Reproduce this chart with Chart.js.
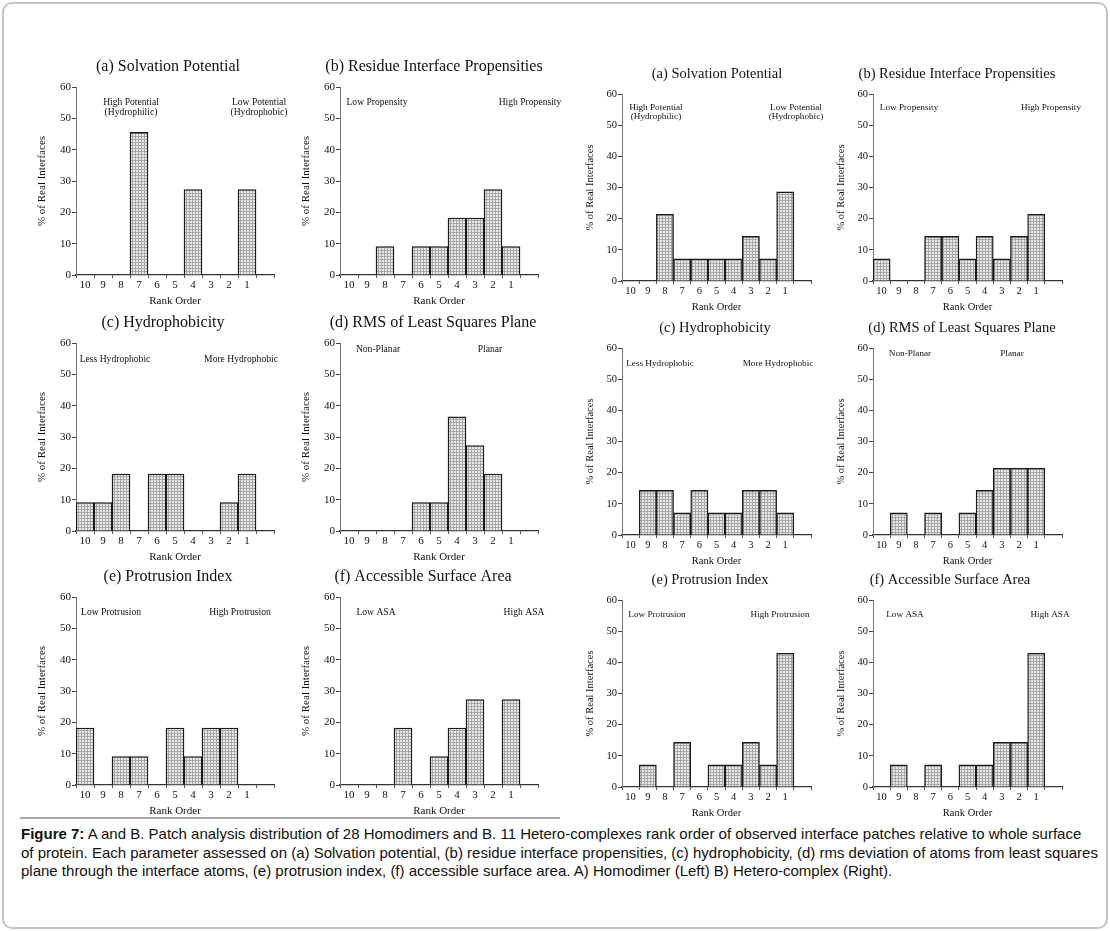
<!DOCTYPE html>
<html>
<head>
<meta charset="utf-8">
<script src="https://cdn.jsdelivr.net/npm/chart.js@4/dist/chart.umd.min.js"></script>
<style>
  html, body { margin: 0; padding: 0; background: #fff; }
  body { width: 1110px; height: 931px; position: relative; overflow: hidden; }
  #frame { position: absolute; left: 2px; top: 2px; width: 1102px; height: 923px;
           border: 2px solid #c4c4c4; border-radius: 10px; }
  #rule { position: absolute; left: 20px; top: 817px; width: 540px; height: 2px; background: #a8a8a8; }
  canvas { position: absolute; }
  #caption { position: absolute; left: 21px; top: 825px; font-family: "Liberation Sans", Arial, sans-serif;
             font-size: 15px; line-height: 18.5px; color: #111; white-space: nowrap; }
</style>
</head>
<body>
<div id="frame"></div>
<div id="rule"></div>
<div id="caption">
  <div><b>Figure 7:</b> A and B. Patch analysis distribution of 28 Homodimers and B. 11 Hetero-complexes rank order of observed interface patches relative to whole surface</div>
  <div>of protein. Each parameter assessed on (a) Solvation potential, (b) residue interface propensities, (c) hydrophobicity, (d) rms deviation of atoms from least squares</div>
  <div>plane through the interface atoms, (e) protrusion index, (f) accessible surface area. A) Homodimer (Left) B) Hetero-complex (Right).</div>
</div>
<script>
// rank order categories (the extra empty slot is the axis run-out after rank 1)
const RANKS = ["10", "9", "8", "7", "6", "5", "4", "3", "2", "1"];
const Y_TICKS = [0, 10, 20, 30, 40, 50, 60];

// A) homodimers, % of real interfaces per rank
const HOMO_SOLVATION  = [0, 0, 0, 45.5, 0, 0, 27.3, 0, 0, 27.3];
const HOMO_RESIDUE    = [0, 0, 9.1, 0, 9.1, 9.1, 18.2, 18.2, 27.3, 9.1];
const HOMO_HYDROPHOB  = [9.1, 9.1, 18.2, 0, 18.2, 18.2, 0, 0, 9.1, 18.2];
const HOMO_RMS        = [0, 0, 0, 0, 9.1, 9.1, 36.4, 27.3, 18.2, 0];
const HOMO_PROTRUSION = [18.2, 0, 9.1, 9.1, 0, 18.2, 9.1, 18.2, 18.2, 0];
const HOMO_ASA        = [0, 0, 0, 18.2, 0, 9.1, 18.2, 27.3, 0, 27.3];

// B) hetero-complexes
const HET_SOLVATION  = [0, 0, 21.4, 7.1, 7.1, 7.1, 7.1, 14.3, 7.1, 28.6];
const HET_RESIDUE    = [7.1, 0, 0, 14.3, 14.3, 7.1, 14.3, 7.1, 14.3, 21.4];
const HET_HYDROPHOB  = [0, 14.3, 14.3, 7.1, 14.3, 7.1, 7.1, 14.3, 14.3, 7.1];
const HET_RMS        = [0, 7.1, 0, 7.1, 0, 7.1, 14.3, 21.4, 21.4, 21.4];
const HET_PROTRUSION = [0, 7.1, 0, 14.3, 0, 7.1, 7.1, 14.3, 7.1, 42.9];
const HET_ASA        = [0, 7.1, 0, 7.1, 0, 7.1, 7.1, 14.3, 14.3, 42.9];

const TITLES = ["(a) Solvation Potential", "(b) Residue Interface Propensities", "(c) Hydrophobicity",
                "(d) RMS of Least Squares Plane", "(e) Protrusion Index", "(f) Accessible Surface Area"];
const LOW_NOTES  = [["High Potential", "(Hydrophilic)"], ["Low Propensity"], ["Less Hydrophobic"],
                    ["Non-Planar"], ["Low Protrusion"], ["Low ASA"]];
const HIGH_NOTES = [["Low Potential", "(Hydrophobic)"], ["High Propensity"], ["More Hydrophobic"],
                    ["Planar"], ["High Protrusion"], ["High ASA"]];

// ---- layout (pixels) ----
const SERIF = "'Liberation Serif', 'Times New Roman', serif";
const homo = {
  values: [HOMO_SOLVATION, HOMO_RESIDUE, HOMO_HYDROPHOB, HOMO_RMS, HOMO_PROTRUSION, HOMO_ASA],
  plotX: [76, 340], plotY: [87, 343, 597], plotW: 198, plotH: 188, yW: 40,
  titleCx: [168, 434, 163, 433, 168, 423], titleSize: 16, font: 11, noteFont: 9.6, noteGap: 10,
  notes: [[55, 15, 183, 15], [37, 15, 190, 15], [39, 16, 165, 16], [38, 6, 150, 6], [35, 15, 164, 15], [36, 15, 184, 15]]
};
const het = {
  values: [HET_SOLVATION, HET_RESIDUE, HET_HYDROPHOB, HET_RMS, HET_PROTRUSION, HET_ASA],
  plotX: [622, 873], plotY: [94, 348, 600], plotW: 189, plotH: 187, yW: 38,
  titleCx: [717, 957, 715, 962, 710, 950], titleSize: 14.5, font: 10.5, noteFont: 9.2, noteGap: 9,
  notes: [[34, 14, 174, 14], [36, 14, 178, 14], [38, 16, 156, 16], [37, 6, 139, 6], [35, 15, 158, 15], [32, 15, 177, 15]]
};

function makePattern() {
  const p = document.createElement("canvas");
  p.width = 3; p.height = 3;
  const c = p.getContext("2d");
  c.fillStyle = "#e9e9e9"; c.fillRect(0, 0, 3, 3);
  c.fillStyle = "#a8a8a8"; c.fillRect(0, 0, 3, 1); c.fillRect(0, 0, 1, 3);
  return c.createPattern(p, "repeat");
}

function drawPanel(set, i) {
  const col = i % 2, row = Math.floor(i / 2);
  const X_H = 33, TOP_H = 32;
  const left = set.plotX[col] - set.yW;
  const width = set.yW + set.plotW + 60;
  const height = TOP_H + set.plotH + X_H;

  const cv = document.createElement("canvas");
  cv.width = width; cv.height = height;
  cv.style.left = left + "px";
  cv.style.top = (set.plotY[row] - TOP_H) + "px";
  cv.style.width = width + "px"; cv.style.height = height + "px";
  document.body.appendChild(cv);

  const n = set.notes[i];
  const labelsPlugin = {
    id: "panelLabels",
    afterDraw(chart) {
      const ctx = chart.ctx, a = chart.chartArea;
      ctx.save();
      ctx.fillStyle = "#111";
      ctx.textAlign = "center";
      ctx.textBaseline = "middle";
      ctx.font = set.titleSize + "px " + SERIF;
      ctx.fillText(TITLES[i], set.titleCx[i] - left, a.top - 20);
      ctx.font = set.noteFont + "px " + SERIF;
      LOW_NOTES[i].forEach((t, k) => ctx.fillText(t, a.left + n[0], a.top + n[1] + k * set.noteGap));
      HIGH_NOTES[i].forEach((t, k) => ctx.fillText(t, a.left + n[2], a.top + n[3] + k * set.noteGap));
      ctx.restore();
    }
  };

  new Chart(cv.getContext("2d"), {
    type: "bar",
    data: {
      labels: RANKS.concat([""]),
      datasets: [{
        data: set.values[i],
        backgroundColor: makePattern(),
        borderColor: "#1a1a1a",
        borderWidth: 1.4,
        borderSkipped: "bottom",
        categoryPercentage: 1,
        barPercentage: 1
      }]
    },
    options: {
      responsive: false,
      animation: false,
      devicePixelRatio: 1,
      layout: { padding: { left: 0, top: TOP_H, bottom: 0, right: width - set.yW - set.plotW } },
      plugins: { legend: { display: false }, tooltip: { enabled: false }, title: { display: false } },
      scales: {
        x: {
          grid: { offset: true, drawOnChartArea: false, tickLength: 3, color: "#555" },
          border: { color: "#333", width: 1.2 },
          ticks: { color: "#111", padding: 1, font: { family: SERIF, size: set.font } },
          title: { display: true, text: "Rank Order", color: "#111", padding: { top: -2, bottom: 0 },
                   font: { family: SERIF, size: set.font } },
          afterFit(s) { s.height = X_H; }
        },
        y: {
          min: 0, max: 60,
          afterBuildTicks(s) { s.ticks = Y_TICKS.map(v => ({ value: v })); },
          grid: { drawOnChartArea: false, tickLength: 4, color: "#444" },
          border: { color: "#777", width: 1, dash: [2, 1] },
          ticks: { color: "#111", padding: 1, font: { family: SERIF, size: set.font } },
          title: { display: true, text: "% of Real Interfaces", color: "#111", padding: 0,
                   font: { family: SERIF, size: set.font } },
          afterFit(s) { s.width = set.yW; }
        }
      }
    },
    plugins: [labelsPlugin]
  });
}

for (let i = 0; i < 6; i++) { drawPanel(homo, i); drawPanel(het, i); }
</script>
</body>
</html>
